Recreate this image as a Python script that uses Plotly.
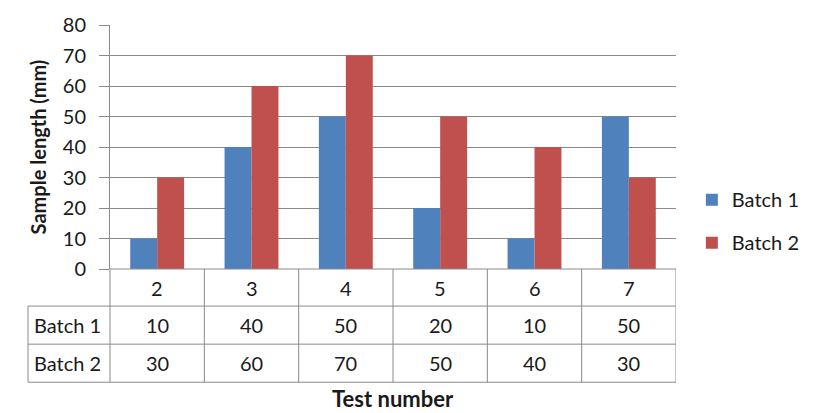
import plotly.graph_objects as go

# Sample lengths per test number
tests = ["2", "3", "4", "5", "6", "7"]
batch1 = [10, 40, 50, 20, 10, 50]
batch2 = [30, 60, 70, 50, 40, 30]
series_names = ["Batch 1", "Batch 2"]
y_ticks = [0, 10, 20, 30, 40, 50, 60, 70, 80]

BLUE = "#4F81BD"
RED = "#C0504D"
GRID = "#8a8a8a"
TXT = "#1a1a1a"
FONT = "Lato, Carlito, Calibri, sans-serif"
FS = 20

W, H = 820, 413
ML, MR, MT, MB = 110, 144, 19, 144
plot_h = H - MT - MB

def py(px_below_axis):
    """Paper y for a distance (px) below the x axis."""
    return -px_below_axis / plot_h

fig = go.Figure()
for name, vals, col in [(series_names[0], batch1, BLUE), (series_names[1], batch2, RED)]:
    fig.add_trace(go.Bar(x=tests, y=vals, name=name, marker_color=col,
                         marker_line_width=0, legendgroup=name))

# Data table below the plot
row_edges = [0, 38, 77, 116]          # px below axis
left_edge = -82 / (W - ML - MR)       # paper x of table's left column edge
n = len(tests)
line = dict(color=GRID, width=1)
shapes = []
# horizontal rules
shapes.append(dict(type="line", xref="paper", yref="paper", x0=0, x1=1,
                   y0=py(row_edges[0]), y1=py(row_edges[0]), line=line))
for e in row_edges[1:]:
    shapes.append(dict(type="line", xref="paper", yref="paper", x0=left_edge, x1=1,
                       y0=py(e), y1=py(e), line=line))
# vertical rules
shapes.append(dict(type="line", xref="paper", yref="paper", x0=left_edge, x1=left_edge,
                   y0=py(row_edges[1]), y1=py(row_edges[3]), line=line))
shapes.append(dict(type="line", xref="paper", yref="paper", x0=0, x1=0,
                   y0=0, y1=py(row_edges[3]), line=line))
for k in range(n):
    shapes.append(dict(type="line", xref="x", yref="paper", x0=k + 0.5, x1=k + 0.5,
                       y0=py(row_edges[0]), y1=py(row_edges[3]), line=line))

ann = []
cell_font = dict(family=FONT, size=FS, color=TXT)
for k, t in enumerate(tests):
    for text, yc in [(t, 19), (str(batch1[k]), 57.5), (str(batch2[k]), 96.5)]:
        ann.append(dict(x=k, xref="x", yref="paper", y=py(yc), text=text, showarrow=False,
                        font=cell_font, xanchor="center", yanchor="middle"))
for name, yc in [(series_names[0], 57.5), (series_names[1], 96.5)]:
    ann.append(dict(x=left_edge, xref="paper", xshift=4, yref="paper", y=py(yc), text=name,
                    showarrow=False, font=cell_font, xanchor="left", yanchor="middle"))
ann.append(dict(x=0.5, xref="paper", yref="paper", y=py(133), text="<b>Test number</b>",
                showarrow=False, font=dict(family=FONT, size=22, color=TXT),
                xanchor="center", yanchor="middle"))

fig.update_layout(
    width=W, height=H,
    margin=dict(l=ML, r=MR, t=MT, b=MB),
    paper_bgcolor="white", plot_bgcolor="white",
    barmode="group", bargap=0.4286, bargroupgap=0,
    font=dict(family=FONT, size=FS, color=TXT),
    showlegend=True,
    legend=dict(x=1.028, xanchor="left", y=0.196, yanchor="middle",
                font=dict(family=FONT, size=FS, color=TXT),
                tracegroupgap=14, bgcolor="rgba(0,0,0,0)"),
    xaxis=dict(type="category", range=[-0.5, n - 0.5], showticklabels=False,
               showgrid=False, ticks="", showline=False, zeroline=False),
    yaxis=dict(range=[0, 80], tickvals=y_ticks, showgrid=True, gridcolor=GRID,
               gridwidth=1, zeroline=False, showline=True, linecolor=GRID,
               ticks="outside", ticklen=10, tickcolor=GRID, ticklabelstandoff=9,
               tickfont=dict(family=FONT, size=FS, color=TXT),
               title=dict(text="<b>Sample length (mm)</b>", standoff=10,
                          font=dict(family=FONT, size=20, color=TXT))),
    shapes=shapes, annotations=ann,
)

fig.write_html("out.html")
